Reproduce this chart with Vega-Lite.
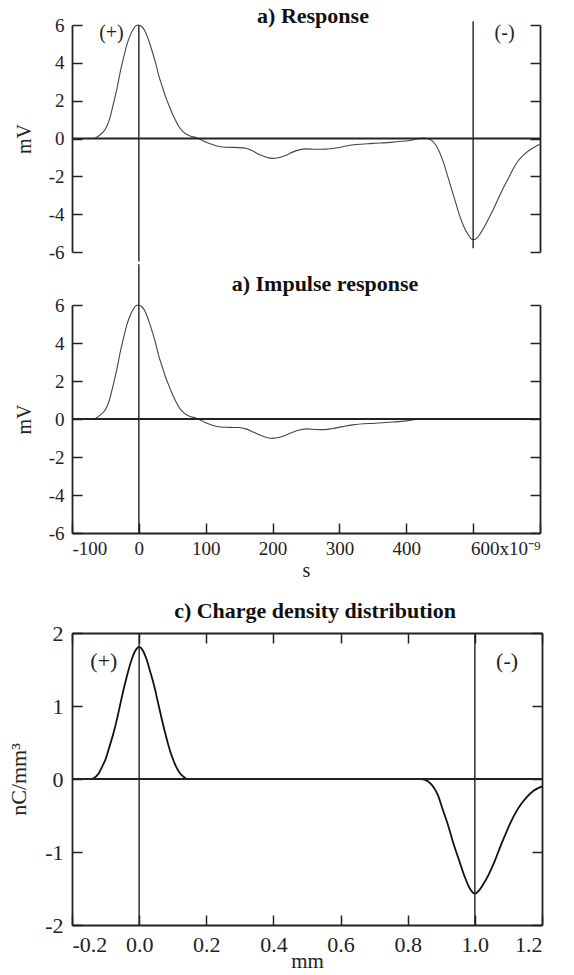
{
  "$schema": "https://vega.github.io/schema/vega-lite/v6.json",
  "background": "white",
  "padding": {"left": 7, "top": 5, "right": 0, "bottom": 0},
  "config": {
    "view": {"stroke": null},
    "font": "Liberation Serif",
    "axis": {
      "grid": false,
      "domainColor": "#222",
      "domainWidth": 1.8,
      "tickColor": "#222",
      "tickWidth": 1.5,
      "tickSize": -10,
      "labelFont": "Liberation Serif",
      "labelColor": "#222",
      "labelFontSize": 19,
      "titleFont": "Liberation Serif",
      "titleFontWeight": "normal",
      "titleColor": "#222",
      "titleFontSize": 20
    },
    "title": {
      "font": "Liberation Serif",
      "fontWeight": "bold",
      "fontSize": 22,
      "color": "#111",
      "frame": "group",
      "anchor": "middle",
      "baseline": "alphabetic"
    }
  },
  "datasets": {
    "resp": [
      {"t": -66, "v": 0.0}, {"t": -58, "v": 0.2}, {"t": -50, "v": 0.5}, {"t": -44, "v": 1.0},
      {"t": -38, "v": 1.85}, {"t": -33, "v": 2.6}, {"t": -28, "v": 3.5}, {"t": -23, "v": 4.25},
      {"t": -18, "v": 4.95}, {"t": -13, "v": 5.45}, {"t": -8, "v": 5.8}, {"t": -4, "v": 5.97},
      {"t": 0, "v": 6.0}, {"t": 4, "v": 5.92}, {"t": 8, "v": 5.75}, {"t": 12, "v": 5.45},
      {"t": 16, "v": 5.05}, {"t": 20, "v": 4.6}, {"t": 25, "v": 4.0}, {"t": 30, "v": 3.3},
      {"t": 35, "v": 2.75}, {"t": 40, "v": 2.2}, {"t": 45, "v": 1.75}, {"t": 50, "v": 1.32},
      {"t": 55, "v": 0.95}, {"t": 60, "v": 0.62}, {"t": 65, "v": 0.4}, {"t": 70, "v": 0.25},
      {"t": 77, "v": 0.13}, {"t": 85, "v": 0.05}, {"t": 92, "v": -0.05}, {"t": 100, "v": -0.18},
      {"t": 110, "v": -0.32}, {"t": 120, "v": -0.42}, {"t": 130, "v": -0.46}, {"t": 150, "v": -0.48},
      {"t": 160, "v": -0.52}, {"t": 170, "v": -0.65}, {"t": 180, "v": -0.85}, {"t": 190, "v": -0.98},
      {"t": 200, "v": -1.05}, {"t": 210, "v": -1.0}, {"t": 220, "v": -0.88}, {"t": 230, "v": -0.72},
      {"t": 240, "v": -0.6}, {"t": 250, "v": -0.55}, {"t": 265, "v": -0.57}, {"t": 280, "v": -0.56},
      {"t": 295, "v": -0.5}, {"t": 310, "v": -0.4}, {"t": 325, "v": -0.32}, {"t": 350, "v": -0.26},
      {"t": 380, "v": -0.19}, {"t": 410, "v": -0.08}, {"t": 425, "v": 0.03}, {"t": 432, "v": 0.0},
      {"t": 438, "v": -0.1}, {"t": 445, "v": -0.4}, {"t": 450, "v": -0.75}, {"t": 456, "v": -1.3},
      {"t": 462, "v": -2.0}, {"t": 468, "v": -2.7}, {"t": 474, "v": -3.4}, {"t": 480, "v": -4.1},
      {"t": 486, "v": -4.65}, {"t": 492, "v": -5.05}, {"t": 497, "v": -5.3}, {"t": 501, "v": -5.35},
      {"t": 506, "v": -5.25}, {"t": 512, "v": -4.95}, {"t": 520, "v": -4.45}, {"t": 528, "v": -3.9},
      {"t": 536, "v": -3.3}, {"t": 544, "v": -2.7}, {"t": 552, "v": -2.15}, {"t": 560, "v": -1.6},
      {"t": 568, "v": -1.15}, {"t": 576, "v": -0.85}, {"t": 584, "v": -0.62}, {"t": 592, "v": -0.45},
      {"t": 600, "v": -0.3}
    ],
    "imp": [
      {"t": -66, "v": 0.0}, {"t": -58, "v": 0.2}, {"t": -50, "v": 0.5}, {"t": -44, "v": 1.0},
      {"t": -38, "v": 1.85}, {"t": -33, "v": 2.6}, {"t": -28, "v": 3.5}, {"t": -23, "v": 4.25},
      {"t": -18, "v": 4.95}, {"t": -13, "v": 5.45}, {"t": -8, "v": 5.8}, {"t": -4, "v": 5.97},
      {"t": 0, "v": 6.0}, {"t": 4, "v": 5.92}, {"t": 8, "v": 5.75}, {"t": 12, "v": 5.45},
      {"t": 16, "v": 5.05}, {"t": 20, "v": 4.6}, {"t": 25, "v": 4.0}, {"t": 30, "v": 3.3},
      {"t": 35, "v": 2.75}, {"t": 40, "v": 2.2}, {"t": 45, "v": 1.75}, {"t": 50, "v": 1.32},
      {"t": 55, "v": 0.95}, {"t": 60, "v": 0.62}, {"t": 65, "v": 0.4}, {"t": 70, "v": 0.25},
      {"t": 77, "v": 0.13}, {"t": 85, "v": 0.05}, {"t": 92, "v": -0.05}, {"t": 100, "v": -0.2},
      {"t": 110, "v": -0.33}, {"t": 122, "v": -0.42}, {"t": 135, "v": -0.44}, {"t": 150, "v": -0.45},
      {"t": 160, "v": -0.52}, {"t": 172, "v": -0.7}, {"t": 185, "v": -0.9}, {"t": 199, "v": -1.02},
      {"t": 212, "v": -0.95}, {"t": 227, "v": -0.74}, {"t": 240, "v": -0.58}, {"t": 252, "v": -0.52},
      {"t": 265, "v": -0.55}, {"t": 278, "v": -0.56}, {"t": 290, "v": -0.5}, {"t": 305, "v": -0.4},
      {"t": 320, "v": -0.31}, {"t": 353, "v": -0.22}, {"t": 380, "v": -0.16}, {"t": 400, "v": -0.1},
      {"t": 415, "v": -0.03}, {"t": 425, "v": 0.0}
    ],
    "charge": [
      {"x": -0.14, "v": 0.0}, {"x": -0.12, "v": 0.08}, {"x": -0.11, "v": 0.17}, {"x": -0.1, "v": 0.27},
      {"x": -0.088, "v": 0.45}, {"x": -0.077, "v": 0.62}, {"x": -0.066, "v": 0.82}, {"x": -0.055, "v": 1.05},
      {"x": -0.044, "v": 1.27}, {"x": -0.033, "v": 1.47}, {"x": -0.022, "v": 1.64}, {"x": -0.011, "v": 1.76},
      {"x": 0.0, "v": 1.81}, {"x": 0.011, "v": 1.76}, {"x": 0.022, "v": 1.64}, {"x": 0.033, "v": 1.47},
      {"x": 0.044, "v": 1.29}, {"x": 0.055, "v": 1.07}, {"x": 0.066, "v": 0.85}, {"x": 0.077, "v": 0.64},
      {"x": 0.088, "v": 0.45}, {"x": 0.1, "v": 0.28}, {"x": 0.11, "v": 0.17}, {"x": 0.12, "v": 0.09},
      {"x": 0.13, "v": 0.04}, {"x": 0.145, "v": 0.0}, {"x": 0.84, "v": 0.0}, {"x": 0.86, "v": -0.03},
      {"x": 0.875, "v": -0.1}, {"x": 0.89, "v": -0.22}, {"x": 0.903, "v": -0.4}, {"x": 0.92, "v": -0.63},
      {"x": 0.936, "v": -0.88}, {"x": 0.952, "v": -1.1}, {"x": 0.969, "v": -1.33}, {"x": 0.985, "v": -1.5},
      {"x": 1.0, "v": -1.57}, {"x": 1.012, "v": -1.53}, {"x": 1.024, "v": -1.45}, {"x": 1.04, "v": -1.32},
      {"x": 1.057, "v": -1.15}, {"x": 1.073, "v": -0.96}, {"x": 1.09, "v": -0.77}, {"x": 1.106, "v": -0.6},
      {"x": 1.123, "v": -0.45}, {"x": 1.14, "v": -0.33}, {"x": 1.156, "v": -0.24}, {"x": 1.175, "v": -0.16},
      {"x": 1.2, "v": -0.1}
    ],
    "zero": [{"v": 0}],
    "vlines1": [{"t": 0, "y": 6, "y2": -6.5}, {"t": 500, "y": 6.2, "y2": -5.8}],
    "vlines2": [{"t": 0, "y": 8.15, "y2": -6}],
    "vlines3": [{"x": 0, "y": 2, "y2": -2}, {"x": 1, "y": 2, "y2": -2}],
    "signs1": [{"t": -41, "v": 5.6, "label": "(+)"}, {"t": 547, "v": 5.6, "label": "(-)"}],
    "signs3": [{"x": -0.105, "v": 1.62, "label": "(+)"}, {"x": 1.096, "v": 1.62, "label": "(-)"}]
  },
  "spacing": 20,
  "vconcat": [
    {
      "spacing": 0,
      "vconcat": [
        {
          "width": 468,
          "height": 227,
          "title": {"text": "a) Response", "offset": -12, "dx": 7},
          "resolve": {"axis": {"y": "independent"}},
          "layer": [
            {
              "data": {"name": "resp"},
              "mark": {"type": "line", "color": "#444", "strokeWidth": 1.1, "interpolate": "monotone"},
              "encoding": {
                "x": {"field": "t", "type": "quantitative", "scale": {"domain": [-100, 600], "nice": false, "zero": false}, "axis": null},
                "y": {"field": "v", "type": "quantitative", "scale": {"domain": [-6, 6], "nice": false},
                  "axis": {"orient": "left", "title": "mV", "values": [-6, -4, -2, 0, 2, 4, 6], "labelPadding": 18,
                    "labelExpr": "replace(datum.label, '\u2212', '-')", "titlePadding": 14}}
              }
            },
            {
              "data": {"name": "zero"},
              "mark": {"type": "rule", "color": "#222", "strokeWidth": 1.8},
              "encoding": {
                "y": {"field": "v", "type": "quantitative",
                  "axis": {"orient": "right", "title": null, "labels": false, "values": [-6, -4, -2, 0, 2, 4, 6]}}
              }
            },
            {
              "data": {"name": "vlines1"},
              "mark": {"type": "rule", "color": "#222", "strokeWidth": 1.4, "clip": false},
              "encoding": {
                "x": {"field": "t", "type": "quantitative", "axis": null},
                "y": {"field": "y", "type": "quantitative", "axis": null},
                "y2": {"field": "y2"}
              }
            },
            {
              "data": {"name": "signs1"},
              "mark": {"type": "text", "font": "Liberation Serif", "fontSize": 20, "color": "#222"},
              "encoding": {
                "x": {"field": "t", "type": "quantitative", "axis": null},
                "y": {"field": "v", "type": "quantitative", "axis": null},
                "text": {"field": "label"}
              }
            }
          ]
        },
        {
          "width": 468,
          "height": 228,
          "title": {"text": "a) Impulse response", "offset": -33, "dx": 19},
          "resolve": {"axis": {"y": "independent"}},
          "layer": [
            {
              "data": {"name": "imp"},
              "mark": {"type": "line", "color": "#444", "strokeWidth": 1.1, "interpolate": "monotone"},
              "encoding": {
                "x": {"field": "t", "type": "quantitative", "scale": {"domain": [-100, 600], "nice": false, "zero": false},
                  "axis": {"orient": "bottom", "title": "s", "values": [-100, 0, 100, 200, 300, 400, 500, 600],
                    "labelPadding": 16, "titlePadding": 2,
                    "labelExpr": "datum.value == 500 ? '' : datum.value == 600 ? '600x10⁻⁹' : replace(datum.label, '\u2212', '-')"}},
                "y": {"field": "v", "type": "quantitative", "scale": {"domain": [-6, 6], "nice": false},
                  "axis": {"orient": "left", "title": "mV", "values": [-6, -4, -2, 0, 2, 4, 6], "labelPadding": 18,
                    "labelExpr": "replace(datum.label, '\u2212', '-')", "titlePadding": 14}}
              }
            },
            {
              "data": {"name": "zero"},
              "mark": {"type": "rule", "color": "#222", "strokeWidth": 1.8},
              "encoding": {
                "y": {"field": "v", "type": "quantitative",
                  "axis": {"orient": "right", "title": null, "labels": false, "values": [-6, -4, -2, 0, 2, 4, 6]}}
              }
            },
            {
              "data": {"name": "vlines2"},
              "mark": {"type": "rule", "color": "#222", "strokeWidth": 1.4, "clip": false},
              "encoding": {
                "x": {"field": "t", "type": "quantitative"},
                "y": {"field": "y", "type": "quantitative", "axis": null},
                "y2": {"field": "y2"}
              }
            }
          ]
        }
      ]
    },
    {
      "width": 470,
      "height": 292,
      "title": {"text": "c) Charge density distribution", "offset": -1, "dx": 8},
      "resolve": {"axis": {"x": "independent", "y": "independent"}},
      "layer": [
        {
          "data": {"name": "charge"},
          "mark": {"type": "line", "color": "#111", "strokeWidth": 1.8, "interpolate": "monotone"},
          "encoding": {
            "x": {"field": "x", "type": "quantitative", "scale": {"domain": [-0.2, 1.2], "nice": false, "zero": false},
              "axis": {"orient": "bottom", "title": "mm", "values": [-0.2, 0, 0.2, 0.4, 0.6, 0.8, 1.0, 1.2], "format": ".1f",
                "labelFontSize": 22, "titleFontSize": 21, "labelPadding": 19, "titlePadding": -5,
                "labelExpr": "replace(datum.label, '\u2212', '-')"}},
            "y": {"field": "v", "type": "quantitative", "scale": {"domain": [-2, 2], "nice": false},
              "axis": {"orient": "left", "title": "nC/mm³", "values": [-2, -1, 0, 1, 2], "format": "d",
                "labelFontSize": 22, "titleFontSize": 22, "labelPadding": 19, "titlePadding": 14,
                "labelExpr": "replace(datum.label, '\u2212', '-')"}}
          }
        },
        {
          "data": {"name": "zero"},
          "mark": {"type": "rule", "color": "#222", "strokeWidth": 1.8},
          "encoding": {
            "y": {"field": "v", "type": "quantitative",
              "axis": {"orient": "right", "title": null, "labels": false, "values": [-2, -1, 0, 1, 2]}}
          }
        },
        {
          "data": {"name": "vlines3"},
          "mark": {"type": "rule", "color": "#222", "strokeWidth": 1.4},
          "encoding": {
            "x": {"field": "x", "type": "quantitative",
              "axis": {"orient": "top", "title": null, "labels": false, "values": [-0.2, 0, 0.2, 0.4, 0.6, 0.8, 1.0, 1.2]}},
            "y": {"field": "y", "type": "quantitative", "axis": null},
            "y2": {"field": "y2"}
          }
        },
        {
          "data": {"name": "signs3"},
          "mark": {"type": "text", "font": "Liberation Serif", "fontSize": 22, "color": "#222"},
          "encoding": {
            "x": {"field": "x", "type": "quantitative", "axis": null},
            "y": {"field": "v", "type": "quantitative", "axis": null},
            "text": {"field": "label"}
          }
        }
      ]
    }
  ]
}
